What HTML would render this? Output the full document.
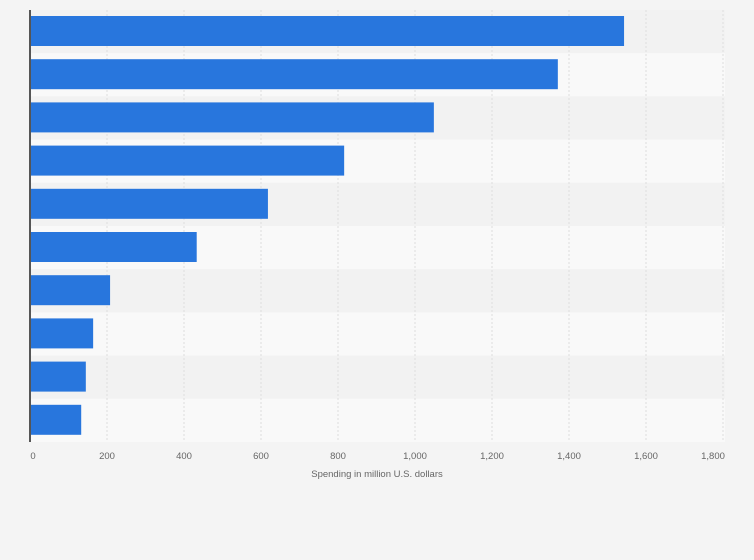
<!DOCTYPE html>
<html><head><meta charset="utf-8"><style>
body{margin:0;background:#f4f4f4;font-family:"Liberation Sans",sans-serif;}
svg{display:block}
</style></head><body>
<svg id="chart" width="754" height="560" xmlns="http://www.w3.org/2000/svg">
<rect width="754" height="560" fill="#f4f4f4"/>
<g id="bands"></g><g id="grid"></g><g id="bars"></g><g id="ticks"></g>
<line x1="30" y1="10" x2="30" y2="442" stroke="#555" stroke-width="2"/>
<text x="377" y="477" text-anchor="middle" font-size="9.5" fill="#666">Spending in million U.S. dollars</text>
</svg>
<script>
const categories = ["c1","c2","c3","c4","c5","c6","c7","c8","c9","c10"];
const values = [1543, 1371, 1049, 816, 618, 433, 208, 164, 145, 133];
const tickValues = [0,200,400,600,800,1000,1200,1400,1600,1800];
const tickLabels = ["0","200","400","600","800","1,000","1,200","1,400","1,600","1,800"];
const NS="http://www.w3.org/2000/svg";
const x0=30, x1=723, yTop=10, yBottom=442, maxV=1800;
const xs=v=>x0+v/maxV*(x1-x0);
const band=(yBottom-yTop)/categories.length;
const g=id=>document.getElementById(id);
function mk(t,a){const e=document.createElementNS(NS,t);for(const k in a)e.setAttribute(k,a[k]);return e;}
categories.forEach((c,i)=>{
  const r=mk('rect',{x:x0,y:yTop+i*band,width:x1+2-x0,height:band,fill:i%2?'#f9f9f9':'#f2f2f2'});
  
  
  g('bands').appendChild(r);
});
tickValues.forEach((v,i)=>{
  if(v>0){const l=mk('line',{x1:xs(v),x2:xs(v),y1:yTop,y2:yBottom,stroke:'#ddd','stroke-dasharray':'2,2'});
  
  
  g('grid').appendChild(l);}
  const t=mk('text',{x:xs(v)+(i==0?3:(i==tickValues.length-1?-10:0)),y:459,'text-anchor':'middle','font-size':'9.5',fill:'#666'});
  t.textContent=tickLabels[i];
  
  
  g('ticks').appendChild(t);
});
values.forEach((v,i)=>{
  const b=mk('rect',{x:x0,y:yTop+i*band+6,width:xs(v)-x0,height:30,fill:'#2876dd'});
  
  
  g('bars').appendChild(b);
});
</script>
</body></html>
